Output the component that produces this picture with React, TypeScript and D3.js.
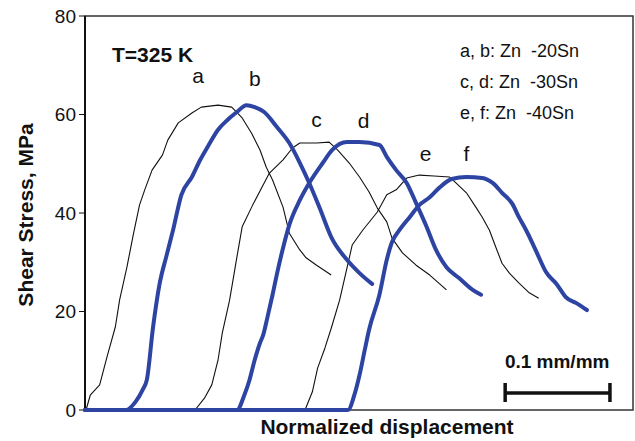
import React from 'react';
import * as d3 from 'd3';

// normalized displacement (mm/mm) vs shear stress (MPa)
const curveA = [
  [0, 0], [0.001, 0], [0.005, 3.0], [0.014, 5.1], [0.021, 10.8], [0.029, 16.9], [0.033, 22.3],
  [0.04, 29.0], [0.046, 35.5], [0.052, 41.6], [0.057, 44.7], [0.064, 48.7], [0.074, 51.8],
  [0.079, 54.8], [0.089, 58.3], [0.102, 60.3], [0.111, 61.5], [0.127, 61.9], [0.14, 61.5],
  [0.15, 59.3], [0.159, 56.2], [0.167, 52.8], [0.173, 49.3], [0.179, 46.7], [0.189, 41.2],
  [0.195, 35.9], [0.205, 32.5], [0.211, 30.9], [0.221, 29.4], [0.235, 27.4],
];
const curveB = [
  [0, 0], [0.039, 0], [0.048, 1.6], [0.055, 4.1], [0.059, 6.1], [0.065, 16.9], [0.071, 25.4],
  [0.078, 31.5], [0.084, 36.5], [0.092, 43.7], [0.102, 47.3], [0.11, 50.8], [0.117, 53.4],
  [0.127, 56.9], [0.136, 58.9], [0.145, 60.5], [0.154, 61.9], [0.162, 61.5], [0.171, 60.5],
  [0.183, 57.5], [0.195, 54.2], [0.205, 50.2], [0.214, 46.1], [0.224, 41.0], [0.235, 35.1],
  [0.25, 30.5], [0.262, 27.8], [0.274, 25.6],
];
const curveC = [
  [0, 0], [0.105, 0], [0.114, 2.4], [0.121, 5.1], [0.127, 10.2], [0.131, 15.6], [0.138, 22.3],
  [0.145, 31.1], [0.15, 37.2], [0.16, 41.6], [0.169, 45.3], [0.176, 48.1], [0.189, 50.8],
  [0.198, 53.2], [0.205, 54.2], [0.221, 54.2], [0.233, 54.4], [0.241, 52.8], [0.252, 50.2],
  [0.262, 47.3], [0.271, 44.3], [0.279, 41.0], [0.288, 38.2], [0.293, 34.9], [0.303, 31.9],
  [0.316, 29.4], [0.329, 27.4], [0.345, 24.4],
];
const curveD = [
  [0, 0], [0.145, 0], [0.152, 3.0], [0.157, 6.1], [0.162, 10.2], [0.167, 13.6], [0.17, 15.2],
  [0.174, 18.7], [0.179, 23.4], [0.184, 28.4], [0.189, 32.9], [0.195, 37.6], [0.205, 42.6],
  [0.214, 46.1], [0.227, 50.2], [0.236, 52.8], [0.25, 54.4], [0.262, 54.4], [0.281, 53.8],
  [0.288, 51.4], [0.297, 48.7], [0.307, 46.1], [0.316, 42.0], [0.326, 37.2], [0.335, 32.5],
  [0.345, 29.0], [0.357, 26.8], [0.37, 24.4], [0.378, 23.4],
];
const curveE = [
  [0, 0], [0.21, 0], [0.217, 3.7], [0.222, 8.5], [0.229, 12.6], [0.235, 16.6], [0.243, 22.3],
  [0.25, 28.8], [0.255, 33.5], [0.265, 36.5], [0.279, 40.2], [0.288, 43.7], [0.297, 44.7],
  [0.307, 47.1], [0.319, 47.7], [0.333, 47.5], [0.348, 47.3], [0.354, 46.1], [0.364, 44.1],
  [0.373, 41.2], [0.379, 39.2], [0.386, 36.5], [0.392, 33.1], [0.398, 29.8], [0.405, 27.8],
  [0.414, 25.8], [0.424, 23.8], [0.433, 22.7],
];
const curveF = [
  [0, 0], [0.251, 0], [0.257, 3.0], [0.262, 7.1], [0.267, 12.2], [0.271, 16.2], [0.281, 23.4],
  [0.288, 30.5], [0.293, 34.1], [0.3, 36.5], [0.31, 39.2], [0.319, 41.6], [0.329, 43.2],
  [0.338, 45.1], [0.35, 46.9], [0.364, 47.3], [0.379, 47.1], [0.389, 46.1], [0.398, 44.1],
  [0.408, 41.8], [0.414, 39.2], [0.421, 36.5], [0.427, 33.9], [0.433, 31.1], [0.44, 28.0],
  [0.45, 25.6], [0.459, 22.9], [0.469, 21.7], [0.479, 20.3],
];

const blackCurves = [curveA, curveC, curveE];
const blueCurves = [curveB, curveD, curveF];

// curve letter, x and y where the letter sits
const curveLabels = [
  ['a', 0.108, 66.4], ['b', 0.162, 65.8], ['c', 0.221, 57.5],
  ['d', 0.266, 57.3], ['e', 0.325, 50.5], ['f', 0.364, 50.5],
];
const legendLines = ['a, b: Zn\u00a0 -20Sn', 'c, d: Zn\u00a0 -30Sn', 'e, f: Zn\u00a0 -40Sn'];
const yTicks = [0, 20, 40, 60, 80];

const W = 635;
const H = 441;
const margin = { top: 16, right: 2, bottom: 31, left: 85 };
const BLUE = '#2d44a3';
const FONT = "'Liberation Sans', Arial, Helvetica, sans-serif";

export default function App() {
  const x = d3.scaleLinear().domain([0, 0.523]).range([margin.left, W - margin.right]);
  const y = d3.scaleLinear().domain([0, 80]).range([H - margin.bottom, margin.top]);
  const line = d3.line<number[]>().x(d => x(d[0])).y(d => y(d[1]));
  const smooth = d3.line<number[]>().x(d => x(d[0])).y(d => y(d[1])).curve(d3.curveMonotoneX);

  const x0 = x(0), x1 = x(0.523), yTop = y(80), yBot = y(0);
  // scale bar: 0.1 mm/mm long
  const barX = x(0.401), barY = 393;

  return (
    <svg width={W} height={H} style={{ position: 'absolute', left: 0, top: 0, fontFamily: FONT }}>
      <rect x={0} y={0} width={W} height={H} fill="#fff" />
      {/* frame */}
      <rect x={x0} y={yTop} width={x1 - x0} height={yBot - yTop} fill="none" stroke="#333" strokeWidth={1.5} />
      <line x1={x0} x2={x0} y1={yTop} y2={yBot} stroke="#111" strokeWidth={2} />
      {yTicks.map(t => (
        <g key={t}>
          <line x1={x0 - 6} x2={x0} y1={y(t)} y2={y(t)} stroke="#111" strokeWidth={1} />
          <text x={x0 - 9} y={y(t)} dy="0.36em" textAnchor="end" fontSize={19} fill="#111">{t}</text>
        </g>
      ))}

      {blackCurves.map((c, i) => (
        <path key={'k' + i} d={line(c as number[][]) || ''} fill="none" stroke="#111" strokeWidth={1.1} strokeLinejoin="round" />
      ))}
      {blueCurves.map((c, i) => (
        <path key={'b' + i} d={smooth(c as number[][]) || ''} fill="none" stroke={BLUE} strokeWidth={4} strokeLinejoin="round" strokeLinecap="round" />
      ))}

      {curveLabels.map(([s, lx, ly]) => (
        <text key={s as string} x={x(lx as number)} y={y(ly as number)} textAnchor="middle" fontSize={21} fill="#111">{s}</text>
      ))}

      <text x={112} y={62} fontSize={21} fontWeight="bold" fill="#111">T=325 K</text>
      {legendLines.map((s, i) => (
        <text key={s} x={460} y={57 + i * 31} fontSize={18} fill="#111">{s}</text>
      ))}

      <text x={barX + 52} y={368} textAnchor="middle" fontSize={19} fontWeight="bold" fill="#111">0.1 mm/mm</text>
      <line x1={barX} x2={x(0.501)} y1={barY} y2={barY} stroke="#111" strokeWidth={3.5} />
      <line x1={barX} x2={barX} y1={barY - 10} y2={barY + 9} stroke="#111" strokeWidth={3.5} />
      <line x1={x(0.501)} x2={x(0.501)} y1={barY - 10} y2={barY + 9} stroke="#111" strokeWidth={3.5} />

      <text transform={`translate(33,${(yTop + yBot) / 2 + 2}) rotate(-90)`} textAnchor="middle" fontSize={21} fontWeight="bold" fill="#111">Shear Stress, MPa</text>
      <text x={387} y={434} textAnchor="middle" fontSize={21} fontWeight="bold" fill="#111">Normalized displacement</text>
    </svg>
  );
}
